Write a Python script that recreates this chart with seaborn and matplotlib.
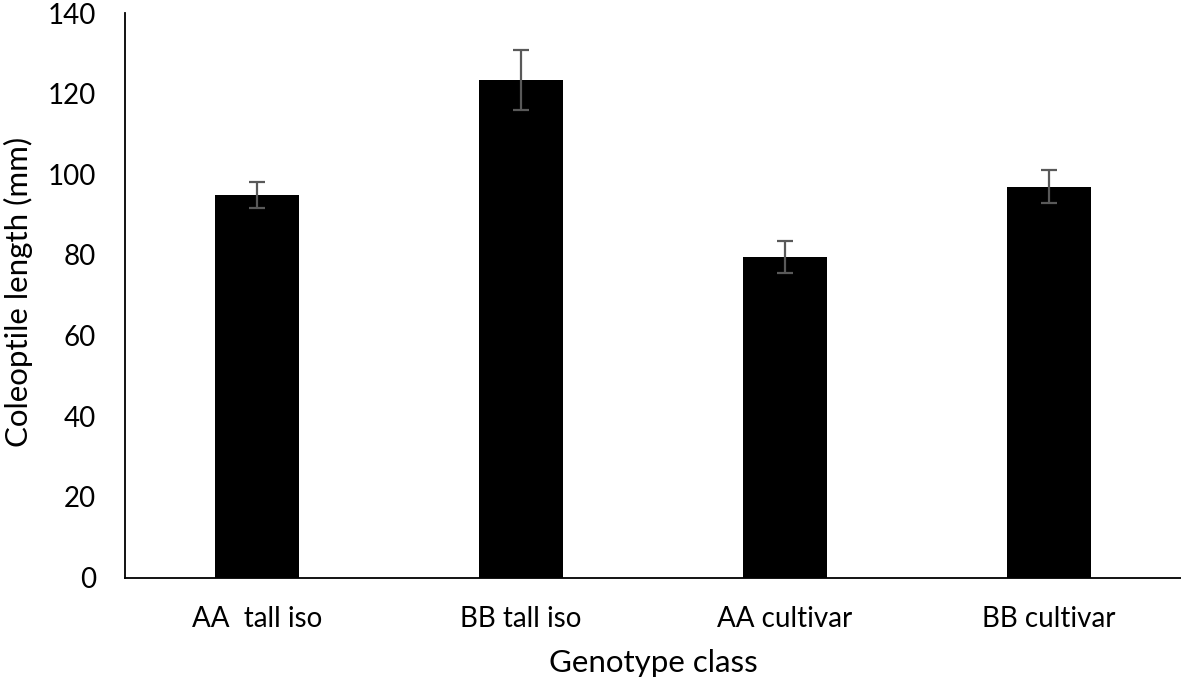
import matplotlib
matplotlib.use("Agg")
import matplotlib.pyplot as plt
import seaborn as sns
import numpy as np
import pandas as pd

categories = ["AA  tall iso", "BB tall iso", "AA cultivar", "BB cultivar"]
means = [94.9, 123.3, 79.5, 96.9]
errors = [3.2, 7.4, 3.9, 4.1]
yticks = [0, 20, 40, 60, 80, 100, 120, 140]

sns.set_theme(style="white")
plt.rcParams["font.family"] = ["Lato", "DejaVu Sans"]

df = pd.DataFrame({"cat": categories, "val": means})

fig = plt.figure(figsize=(11.81, 6.8), dpi=100)
ax = fig.add_axes([125 / 1181, 1 - 577.5 / 680, 1 - 125 / 1181, (577.5 - 13) / 680])

sns.barplot(data=df, x="cat", y="val", color="black", width=0.315,
            errorbar=None, ax=ax, saturation=1, edgecolor="none")
ax.errorbar(np.arange(len(categories)), means, yerr=errors, fmt="none",
            ecolor="#595959", elinewidth=1.6, capsize=6, capthick=1.6)

ax.set_xlim(-0.5, len(categories) - 0.5)
ax.set_ylim(0, 140)
ax.set_yticks(yticks)
ax.set_yticklabels([str(t) for t in yticks])
ax.tick_params(axis="both", length=0, labelsize=20, colors="black")
ax.tick_params(axis="y", pad=21)
ax.tick_params(axis="x", pad=20.5)

for s in ["top", "right"]:
    ax.spines[s].set_visible(False)
for s in ["left", "bottom"]:
    ax.spines[s].set_color("black")
    ax.spines[s].set_linewidth(1.3)

ax.set_xlabel("Genotype class", fontsize=22.5, color="black", labelpad=12)
ax.set_ylabel("Coleoptile length (mm)", fontsize=22.5, color="black")
ax.yaxis.set_label_coords(-0.087, 0.505)

fig.savefig("out.png", dpi=100)
